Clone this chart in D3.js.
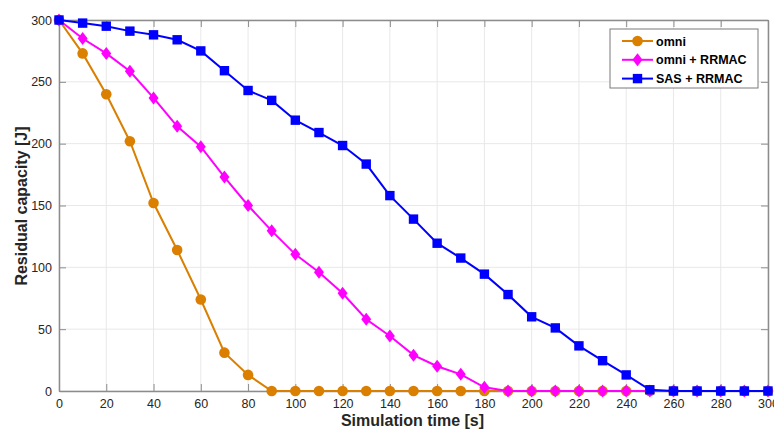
<!DOCTYPE html>
<meta charset="utf-8">
<head>
  <title>Residual capacity</title>
  <style>
    body { margin: 0; background: #fff; }
    text { font-family: "Liberation Sans", Arial, sans-serif; }
  </style>
</head>
<body>
  <script src="https://d3js.org/d3.v7.min.js"></script>
  <div id="chart"></div>

  <script>
    // simulation time steps
    var times = [0, 10, 20, 30, 40, 50, 60, 70, 80, 90, 100, 110, 120, 130, 140, 150,
                 160, 170, 180, 190, 200, 210, 220, 230, 240, 250, 260, 270, 280, 290, 300];

    var omni = [300, 273, 240, 202, 152, 114, 74, 31, 13, 0, 0, 0, 0, 0, 0, 0,
                0, 0, 0, 0, 0, 0, 0, 0, 0, 0, 0, 0, 0, 0, 0];
    var omniRRMAC = [300, 285, 273, 258.5, 237, 214, 197.5, 173, 150, 129.5, 110.5, 96, 79, 58, 44.5, 29,
                     20, 13.5, 3, 0, 0, 0, 0, 0, 0, 0, 0, 0, 0, 0, 0];
    var sasRRMAC = [300, 297.5, 295, 291, 288, 284, 275, 259, 243, 235, 219, 209, 198.5, 183.5, 158, 139,
                    119.5, 107.5, 94.5, 78, 60, 51, 36.5, 24.5, 13, 1, 0, 0, 0, 0, 0];

    var xTicks = d3.range(0, 301, 20);
    var yTicks = [0, 50, 100, 150, 200, 250, 300];

    var seriesNames = ["omni", "omni + RRMAC", "SAS + RRMAC"];
    var seriesValues = [omni, omniRRMAC, sasRRMAC];
    var seriesColors = ["#da7f00", "#ff00ff", "#0000ff"];
    var seriesMarkers = ["circle", "diamond", "square"];

    var margin = {top: 20, right: 6, bottom: 39, left: 59},
        width = 774 - margin.left - margin.right,
        height = 430 - margin.top - margin.bottom;

    var svg = d3.select("#chart")
      .append("svg")
        .attr("width", 774)
        .attr("height", 430)
      .append("g")
        .attr("transform", "translate(" + margin.left + "," + margin.top + ")");

    var x = d3.scaleLinear().domain([0, 300]).range([0, width]);
    var y = d3.scaleLinear().domain([0, 300]).range([height, 0]);

    // grid
    svg.append("g").selectAll("line").data(xTicks).enter().append("line")
      .attr("x1", d => x(d)).attr("x2", d => x(d))
      .attr("y1", 0).attr("y2", height)
      .attr("stroke", "#e8e8e8").attr("stroke-width", 1);
    svg.append("g").selectAll("line").data(yTicks).enter().append("line")
      .attr("y1", d => y(d)).attr("y2", d => y(d))
      .attr("x1", 0).attr("x2", width)
      .attr("stroke", "#e8e8e8").attr("stroke-width", 1);

    // axes, ticks pointing inward like matlab
    var axisColor = "#8c8c8c";
    var xAxis = svg.append("g")
      .attr("transform", "translate(0," + height + ")")
      .call(d3.axisBottom(x).tickValues(xTicks).tickSizeInner(-7).tickSizeOuter(0).tickPadding(8));
    var xTop = svg.append("g")
      .call(d3.axisTop(x).tickValues(xTicks).tickSizeInner(-7).tickSizeOuter(0).tickFormat(""));
    var yAxis = svg.append("g")
      .call(d3.axisLeft(y).tickValues(yTicks).tickSizeInner(-7).tickSizeOuter(0).tickPadding(7));
    var yRight = svg.append("g")
      .attr("transform", "translate(" + width + ",0)")
      .call(d3.axisRight(y).tickValues(yTicks).tickSizeInner(-7).tickSizeOuter(0).tickFormat(""));

    [xAxis, xTop, yAxis, yRight].forEach(function(a) {
      a.select(".domain").attr("stroke", axisColor).attr("stroke-width", 1.5);
      a.selectAll(".tick line").attr("stroke", axisColor);
      a.selectAll(".tick text").attr("fill", "#262626").style("font-size", "12.5px")
        .style("font-family", "'Liberation Sans', Arial, sans-serif");
    });

    // axis labels
    svg.append("text")
      .attr("x", width / 2 - 1)
      .attr("y", height + 35)
      .attr("text-anchor", "middle")
      .style("font-size", "16px").style("font-weight", "bold").attr("fill", "#262626")
      .text("Simulation time [s]");
    svg.append("text")
      .attr("transform", "rotate(-90)")
      .attr("x", -186)
      .attr("y", -32)
      .attr("text-anchor", "middle")
      .style("font-size", "16px").style("font-weight", "bold").attr("fill", "#262626")
      .text("Residual capacity [J]");

    function drawMarker(g, type, color) {
      if (type === "circle") {
        g.append("circle").attr("r", 5.3).attr("fill", color);
      } else if (type === "square") {
        g.append("rect").attr("x", -4.7).attr("y", -4.7).attr("width", 9.4).attr("height", 9.4).attr("fill", color);
      } else {
        g.append("path").attr("d", "M0,-6.5L5,0L0,6.5L-5,0Z").attr("fill", color);
      }
    }

    var line = d3.line()
      .x(function(d, i) { return x(times[i]); })
      .y(function(d) { return y(d); });

    seriesValues.forEach(function(vals, s) {
      svg.append("path")
        .datum(vals)
        .attr("fill", "none")
        .attr("stroke", seriesColors[s])
        .attr("stroke-width", 2)
        .attr("d", line);
      vals.forEach(function(v, i) {
        var g = svg.append("g").attr("transform", "translate(" + x(times[i]) + "," + y(v) + ")");
        drawMarker(g, seriesMarkers[s], seriesColors[s]);
      });
    });

    // legend
    var legend = svg.append("g").attr("transform", "translate(" + (610 - margin.left) + "," + (29 - margin.top) + ")");
    legend.append("rect")
      .attr("width", 148).attr("height", 59)
      .attr("fill", "#fff").attr("stroke", "#7a7a7a").attr("stroke-width", 1);
    seriesNames.forEach(function(name, s) {
      var row = legend.append("g").attr("transform", "translate(0," + (12 + s * 18.8) + ")");
      row.append("line").attr("x1", 12).attr("x2", 43)
        .attr("stroke", seriesColors[s]).attr("stroke-width", 2);
      drawMarker(row.append("g").attr("transform", "translate(27.5,0)"), seriesMarkers[s], seriesColors[s]);
      row.append("text").attr("x", 46).attr("y", 4.5)
        .style("font-size", "12.5px").style("font-weight", "bold").attr("fill", "#000")
        .text(name);
    });
  </script>
</body>
